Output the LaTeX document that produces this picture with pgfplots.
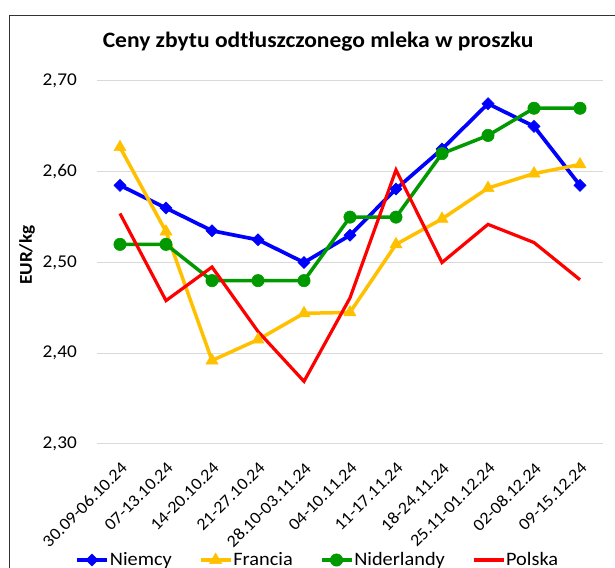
\documentclass[border=0pt]{standalone}
\usepackage{pgfplots}
\pgfplotsset{compat=1.18}
\usepackage{fontspec}
\setmainfont{Carlito}[FakeStretch=1.07]
\definecolor{cblue}{RGB}{0,0,255}
\definecolor{cyellow}{RGB}{255,192,0}
\definecolor{cgreen}{RGB}{0,153,0}
\definecolor{cred}{RGB}{255,0,0}
\definecolor{cgrid}{RGB}{217,217,217}
\begin{document}
\begin{tikzpicture}[x=1pt,y=1pt]
\useasboundingbox (0,0) rectangle (615,567);
\draw[black!80, line width=1pt] (9,-5) -- (9,551) -- (620,551);
\begin{axis}[
  at={(97pt,123pt)}, anchor=south west,
  scale only axis, width=506pt, height=363pt,
  xmin=-0.5, xmax=10.5, ymin=2.3, ymax=2.7,
  clip=false,
  axis line style={draw=none},
  major tick length=0pt,
  ymajorgrids, grid style={cgrid, line width=1pt},
  xtick={0,1,2,3,4,5,6,7,8,9,10},
  xticklabels={30.09-06.10.24,07-13.10.24,14-20.10.24,21-27.10.24,28.10-03.11.24,04-10.11.24,11-17.11.24,18-24.11.24,25.11-01.12.24,02-08.12.24,09-15.12.24},
  xticklabel style={xshift=0pt, yshift=-17pt, rotate=45, anchor=north east, inner sep=0pt, font=\fontsize{17}{19}\selectfont},
  ytick={2.3,2.4,2.5,2.6,2.7},
  yticklabels={{2,30},{2,40},{2,50},{2,60},{2,70}},
  yticklabel style={anchor=east, inner sep=0pt, xshift=-20pt, font=\fontsize{18}{20}\selectfont},
  title={\textbf{Ceny zbytu odtłuszczonego mleka w proszku}},
  title style={at={(axis description cs:0.437,1.0744)}, anchor=base, font=\fontsize{22}{25}\selectfont},
  ylabel={\textbf{EUR/kg}},
  ylabel style={at={(axis description cs:-0.138,0.52)}, anchor=center, font=\fontsize{18}{20}\selectfont},
  legend columns=4,
  legend style={at={(axis description cs:-0.0435,-0.3196)}, anchor=west, draw=none, fill=none, inner sep=0pt,
    font=\fontsize{19}{21}\selectfont, nodes={inner sep=1pt},
    /tikz/every even column/.append style={column sep=26pt}},
  legend image code/.code={\draw[mark repeat=2,mark phase=2,#1] plot coordinates {(0pt,0pt)(15pt,0pt)(30pt,0pt)};},
]
\addplot[cblue, line width=3.7pt, mark=square*, mark size=4.3pt, mark options={solid, rotate=45, fill=cblue, line width=0.5pt}]
coordinates {(0,2.585)(1,2.560)(2,2.535)(3,2.525)(4,2.500)(5,2.530)(6,2.581)(7,2.625)(8,2.675)(9,2.650)(10,2.585)};
\addlegendentry{Niemcy}
\addplot[cyellow, line width=3.5pt, mark=triangle*, mark size=7pt, mark options={solid, fill=cyellow, line width=0.5pt}]
coordinates {(0,2.627)(1,2.534)(2,2.392)(3,2.415)(4,2.444)(5,2.445)(6,2.520)(7,2.548)(8,2.582)(9,2.598)(10,2.608)};
\addlegendentry{Francia}
\addplot[cgreen, line width=3.5pt, mark=*, mark size=6.2pt, mark options={solid, fill=cgreen, line width=0.5pt}]
coordinates {(0,2.520)(1,2.520)(2,2.480)(3,2.480)(4,2.480)(5,2.550)(6,2.550)(7,2.620)(8,2.640)(9,2.670)(10,2.670)};
\addlegendentry{Niderlandy}
\addplot[cred, line width=3.2pt, no markers]
coordinates {(0,2.554)(1,2.458)(2,2.495)(3,2.424)(4,2.369)(5,2.461)(6,2.602)(7,2.500)(8,2.542)(9,2.522)(10,2.481)};
\addlegendentry{Polska}
\end{axis}
\end{tikzpicture}
\end{document}
